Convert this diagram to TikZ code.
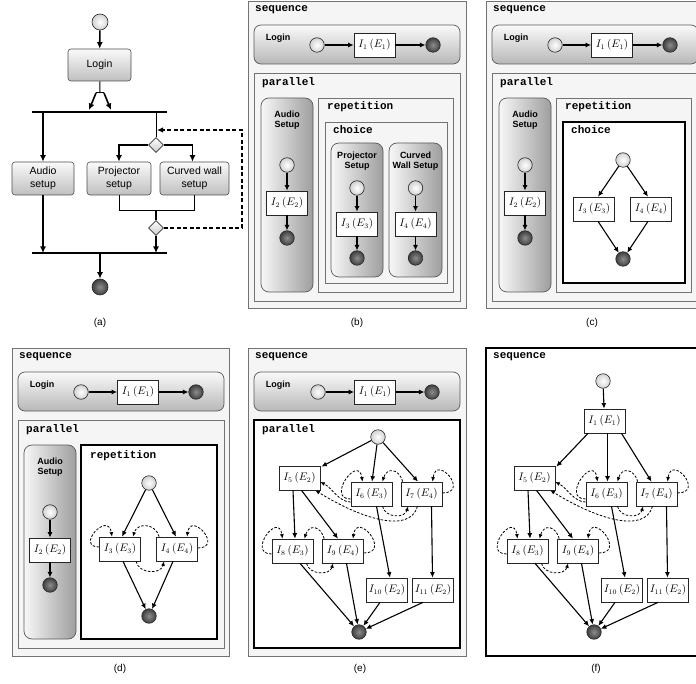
\documentclass[tikz,border=0pt]{standalone}
\usepackage{fontspec}
\setmainfont{Liberation Serif}
\setsansfont{Liberation Sans}
\setmonofont{Liberation Mono}
\usetikzlibrary{arrows.meta,shapes.geometric,calc}
\tikzset{
  seqbox/.style={draw=black!55, fill=black!4, line width=0.8pt},
  thickbox/.style={draw=black, fill=white, line width=1.6pt},
  loginbox/.style={draw=black!65, rounded corners=7pt, top color=black!2, bottom color=black!28, line width=0.7pt},
  tallbox/.style={draw=black!65, rounded corners=8pt, left color=black!3, right color=black!38, line width=0.7pt},
  abox/.style={draw=black!70, rounded corners=3pt, top color=black!2, bottom color=black!25, font=\sffamily\fontsize{10.5}{12.5}\selectfont, align=center, line width=0.6pt, inner sep=0pt},
  ibox/.style={draw=black!85, fill=white, minimum width=41pt, minimum height=24pt, inner sep=0pt, font=\fontsize{10.5}{12}\selectfont, line width=0.7pt},
  startc/.style={circle, draw=black!85, inner color=white, outer color=black!18, minimum size=14.5pt, inner sep=0pt, line width=0.6pt},
  endc/.style={circle, draw=black!85, inner color=black!45, outer color=black!75, minimum size=14.5pt, inner sep=0pt, line width=0.6pt},
  arr/.style={-{Latex[length=5.5pt,width=5pt]}, line width=1.1pt},
  aarr/.style={-{Latex[length=6.5pt,width=6pt]}, line width=1.6pt},
  darr/.style={-{Latex[length=4.5pt,width=4pt]}, dash pattern=on 2.5pt off 1.6pt, line width=0.8pt},
  kw/.style={font=\ttfamily\bfseries\fontsize{11}{12}\selectfont, anchor=west, inner sep=0pt},
  lbl/.style={font=\sffamily\bfseries\fontsize{9}{10.5}\selectfont, align=center, inner sep=0pt},
  captxt/.style={font=\sffamily\fontsize{10}{12}\selectfont, inner sep=0pt},
  dia/.style={diamond, draw=black!80, top color=white, bottom color=black!20, minimum size=15pt, inner sep=0pt, line width=0.6pt}
}
\newcommand{\boxat}[6]{\node[#1, minimum width={(#5)-(#3)}, minimum height={(#6)-(#4)}, inner sep=0pt, outer sep=0pt, anchor=north west] (#2) at (#3,#4) {};}
\newcommand{\lowergraph}[1]{%
  \node[ibox] (#1i5) at (299.5,478) {$I_5\,(E_2)$};
  \node[ibox] (#1i6) at (371.5,494) {$I_6\,(E_3)$};
  \node[ibox] (#1i7) at (421.5,494) {$I_7\,(E_4)$};
  \node[ibox] (#1i8) at (292.5,551) {$I_8\,(E_3)$};
  \node[ibox] (#1i9) at (343,551) {$I_9\,(E_4)$};
  \node[ibox] (#1i10) at (387,590) {$I_{10}\,(E_2)$};
  \node[ibox] (#1i11) at (433,590) {$I_{11}\,(E_2)$};
  \node[endc] (#1end) at (359,632) {};
  \draw[arr] ([shift={(-6.5,0)}]#1i5.south) -- ([shift={(2.5,0)}]#1i8.north);
  \draw[arr] ([shift={(2,0)}]#1i5.south) -- ([shift={(-5,0)}]#1i9.north);
  \draw[arr] ([shift={(5,0)}]#1i6.south) -- ([shift={(3,0)}]#1i10.north);
  \draw[arr] ([shift={(10,0)}]#1i7.south) -- ([shift={(-0.5,0)}]#1i11.north);
  \draw[arr] ([shift={(7.5,0)}]#1i8.south) -- (#1end);
  \draw[arr] ([shift={(3.5,0)}]#1i9.south) -- (#1end);
  \draw[arr] ([shift={(-7,0)}]#1i10.south) -- (#1end);
  \draw[arr] ([shift={(-10,0)}]#1i11.south) -- (#1end);
  \draw[darr] ([shift={(0,5)}]#1i6.west) .. controls +(-25,0) and +(-4,-28) .. ([shift={(-9,0)}]#1i6.north);
  \draw[darr] ([shift={(2,0)}]#1i7.north west) .. controls +(-4,-14) and +(4,-14) .. ([shift={(11,0)}]#1i6.north);
  \draw[darr] ([shift={(0,-1)}]#1i7.east) .. controls +(28,0) and +(4,-28) .. ([shift={(11,0)}]#1i7.north);
  \draw[darr] ([shift={(11,0)}]#1i6.south) .. controls +(3,12) and +(-3,12) .. ([shift={(-13.5,0)}]#1i7.south);
  \draw[darr] ([shift={(-4,0)}]#1i7.south) .. controls +(-8,28) and +(45,28) .. ([shift={(-5,0)}]#1i5.south east);
  \draw[darr] ([shift={(0,8)}]#1i6.west) .. controls +(-12,0) and +(12,6) .. ([shift={(0,4)}]#1i5.east);
  \draw[darr] ([shift={(0,3)}]#1i8.west) .. controls +(-25,0) and +(-4,-28) .. ([shift={(-10,0)}]#1i8.north);
  \draw[darr] ([shift={(2,0)}]#1i9.north west) .. controls +(-4,-14) and +(4,-14) .. ([shift={(12,0)}]#1i8.north);
  \draw[darr] ([shift={(0,2)}]#1i9.east) .. controls +(28,0) and +(4,-28) .. ([shift={(10,0)}]#1i9.north);
  \draw[darr] ([shift={(14,0)}]#1i8.south) .. controls +(3,12) and +(-3,12) .. ([shift={(-10,0)}]#1i9.south);
}
\begin{document}
\begin{tikzpicture}[x=1pt,y=-1pt]
\useasboundingbox (0,0) rectangle (696,684);
\clip (0,0) rectangle (696,684);

% ================= (a) =================
\node[startc, minimum size=16pt] (as) at (100,22) {};
\node[abox, minimum width=63pt, minimum height=32pt] (alog) at (99.5,65) {Login};
\draw[aarr] (as) -- (alog);
\coordinate (af) at (100,93);
\coordinate (afl) at (96,93);
\coordinate (afr) at (104,93);
\coordinate (afl2) at (89,110);
\coordinate (afr2) at (111,110);
\draw[line width=1pt] (alog) -- (af);
\draw[line width=1pt] (afl) -- (afr);
\draw[aarr] (afl) -- (afl2);
\draw[aarr] (afr) -- (afr2);
\coordinate (ab1w) at (32,112);
\coordinate (ab1e) at (167,112);
\draw[line width=2.5pt] (ab1w) -- (ab1e);
\node[abox, minimum width=62pt, minimum height=33pt] (aaud) at (43,178.5) {Audio\\setup};
\node[abox, minimum width=64pt, minimum height=33pt] (aproj) at (119,178.5) {Projector\\setup};
\node[abox, minimum width=69pt, minimum height=33pt] (acurv) at (194.5,178.5) {Curved wall\\setup};
\coordinate (ab1a) at (43,112);
\coordinate (ab1c) at (156,112);
\draw[aarr] (ab1a) -- (aaud);
\node[dia] (ad1) at (156,145) {};
\node[dia] (ad2) at (156,228) {};
\draw[line width=1pt] (ab1c) -- (ad1.north);
\draw[aarr] (ad1.west) -| (aproj.north);
\draw[aarr] (ad1.east) -| ([shift={(-2,0)}]acurv.north);
\coordinate (ajoin) at (156,210);
\draw[line width=0.7pt] (aproj.south) -- ++(0,15) -| (acurv.south);
\draw[line width=1.4pt] (ajoin) -- (ad2.north);
\coordinate (ab2w) at (32,253);
\coordinate (ab2e) at (167,253);
\draw[line width=2.5pt] (ab2w) -- (ab2e);
\coordinate (ab2a) at (43,253);
\coordinate (ab2c) at (156,253);
\coordinate (ab2m) at (100,253);
\draw[aarr] (aaud) -- (ab2a);
\draw[aarr] (ad2.south) -- (ab2c);
\node[endc, minimum size=16pt] (aend) at (100,287) {};
\draw[aarr] (ab2m) -- (aend);
\coordinate (adr1) at (242,228);
\coordinate (adr2) at (242,130);
\coordinate (adr3) at (157,130);
\draw[-{Latex[length=6pt,width=5.5pt]}, dash pattern=on 4pt off 2.5pt, line width=1.3pt] (ad2.east) -- (adr1) -- (adr2) -- (adr3);
\node[captxt] (acap) at (100,323) {(a)};

% ================= (b) =================
\boxat{seqbox}{bseq}{248}{1}{466}{308}
\node[kw] (bseqk) at (255,10) {sequence};
\boxat{loginbox}{blog}{254}{25}{460}{64}
\node[lbl] (blogt) at (278,38) {Login};
\node[startc] (b1s) at (317,45) {};
\node[ibox] (b1) at (374.5,45) {$I_1\,(E_1)$};
\node[endc] (b1e) at (433,45) {};
\draw[arr] (b1s) -- (b1);
\draw[arr] (b1) -- (b1e);
\boxat{seqbox}{bpar}{254}{73}{460}{301}
\node[kw] (bpark) at (262,83) {parallel};
\boxat{tallbox}{baud}{261}{98}{313}{292}
\node[lbl] (baudt) at (287,120) {Audio\\Setup};
\node[startc] (b2s) at (287,165) {};
\node[ibox] (b2) at (287,203) {$I_2\,(E_2)$};
\node[endc] (b2e) at (287,238) {};
\draw[arr] (b2s) -- (b2);
\draw[arr] (b2) -- (b2e);
\boxat{seqbox}{brep}{318}{98}{453}{292}
\node[kw] (brepk) at (327,107) {repetition};
\boxat{seqbox}{bcho}{325}{122}{447}{283}
\node[kw] (bchok) at (333,130) {choice};
\boxat{tallbox}{bproj}{331}{143}{383}{277}
\node[lbl] (bprojt) at (357,161) {Projector\\Setup};
\boxat{tallbox}{bcurv}{389}{143}{442}{277}
\node[lbl] (bcurvt) at (415.5,161) {Curved\\Wall Setup};
\node[startc] (b3s) at (357,188) {};
\node[ibox] (b3) at (357,224) {$I_3\,(E_3)$};
\node[endc] (b3e) at (357,258) {};
\draw[arr] (b3s) -- (b3);
\draw[arr] (b3) -- (b3e);
\node[startc] (b4s) at (415.5,188) {};
\node[ibox] (b4) at (415.5,224) {$I_4\,(E_4)$};
\node[endc] (b4e) at (415.5,258) {};
\draw[arr] (b4s) -- (b4);
\draw[arr] (b4) -- (b4e);
\node[captxt] (bcap) at (357,323) {(b)};

% ================= (c) =================
\boxat{seqbox}{cseq}{486}{1}{704}{308}
\node[kw] (cseqk) at (493,10) {sequence};
\boxat{loginbox}{clog}{492}{25}{698}{64}
\node[lbl] (clogt) at (516,38) {Login};
\node[startc] (c1s) at (555,45) {};
\node[ibox] (c1) at (612,45) {$I_1\,(E_1)$};
\node[endc] (c1e) at (670,45) {};
\draw[arr] (c1s) -- (c1);
\draw[arr] (c1) -- (c1e);
\boxat{seqbox}{cpar}{492}{73}{698}{301}
\node[kw] (cpark) at (500,83) {parallel};
\boxat{tallbox}{caud}{499}{98}{551}{292}
\node[lbl] (caudt) at (525,120) {Audio\\Setup};
\node[startc] (c2s) at (525,165) {};
\node[ibox] (c2) at (525,203) {$I_2\,(E_2)$};
\node[endc] (c2e) at (525,238) {};
\draw[arr] (c2s) -- (c2);
\draw[arr] (c2) -- (c2e);
\boxat{seqbox}{crep}{556}{98}{691}{292}
\node[kw] (crepk) at (565,107) {repetition};
\boxat{thickbox}{ccho}{563}{122}{685}{283}
\node[kw] (cchok) at (571,130) {choice};
\node[startc] (c3s) at (623,160) {};
\node[ibox] (c3) at (594,209) {$I_3\,(E_3)$};
\node[ibox] (c4) at (651,209) {$I_4\,(E_4)$};
\node[endc] (c3e) at (623,259) {};
\draw[arr] (c3s) -- ([shift={(4,0)}]c3.north);
\draw[arr] (c3s) -- ([shift={(-3,0)}]c4.north);
\draw[arr] ([shift={(4,0)}]c3.south) -- (c3e);
\draw[arr] ([shift={(-3,0)}]c4.south) -- (c3e);
\node[captxt] (ccap) at (592,323) {(c)};

% ================= (d) =================
\boxat{seqbox}{dseq}{12}{348}{229}{656}
\node[kw] (dseqk) at (19,357) {sequence};
\boxat{loginbox}{dlog}{18}{372}{224}{411}
\node[lbl] (dlogt) at (42,385) {Login};
\node[startc] (d1s) at (81,392) {};
\node[ibox] (d1) at (138,392) {$I_1\,(E_1)$};
\node[endc] (d1e) at (196,392) {};
\draw[arr] (d1s) -- (d1);
\draw[arr] (d1) -- (d1e);
\boxat{seqbox}{dpar}{18}{420}{224}{648}
\node[kw] (dpark) at (26,430) {parallel};
\boxat{tallbox}{daud}{24}{445}{76}{639}
\node[lbl] (daudt) at (50,467) {Audio\\Setup};
\node[startc] (d2s) at (50,512) {};
\node[ibox] (d2) at (50,550) {$I_2\,(E_2)$};
\node[endc] (d2e) at (50,585) {};
\draw[arr] (d2s) -- (d2);
\draw[arr] (d2) -- (d2e);
\boxat{thickbox}{drep}{81}{445}{217}{639}
\node[kw] (drepk) at (90,456) {repetition};
\node[startc] (d3s) at (149,483) {};
\node[ibox] (d3) at (120,549) {$I_3\,(E_3)$};
\node[ibox] (d4) at (177,549) {$I_4\,(E_4)$};
\node[endc] (d3e) at (149,616) {};
\draw[arr] (d3s) -- ([shift={(2,0)}]d3.north);
\draw[arr] (d3s) -- ([shift={(-1,0)}]d4.north);
\draw[arr] ([shift={(3,0)}]d3.south) -- (d3e);
\draw[arr] ([shift={(-4,0)}]d4.south) -- (d3e);
\draw[darr] ([shift={(0,-2)}]d3.west) .. controls +(-24,0) and +(-4,-26) .. ([shift={(-8,0)}]d3.north);
\draw[darr] ([shift={(3,0)}]d4.north west) .. controls +(-4,-14) and +(4,-14) .. ([shift={(13,0)}]d3.north);
\draw[darr] ([shift={(0,-1)}]d4.east) .. controls +(26,0) and +(4,-26) .. ([shift={(10,0)}]d4.north);
\draw[darr] ([shift={(16,0)}]d3.south) .. controls +(3,13) and +(-3,13) .. ([shift={(-13,0)}]d4.south);
\node[captxt] (dcap) at (120,669) {(d)};

% ================= (e) =================
\boxat{seqbox}{eseq}{248}{348}{466}{656}
\node[kw] (eseqk) at (255,357) {sequence};
\boxat{loginbox}{elog}{254}{372}{460}{411}
\node[lbl] (elogt) at (278,385) {Login};
\node[startc] (e1s) at (318,392) {};
\node[ibox] (e1) at (375,392) {$I_1\,(E_1)$};
\node[endc] (e1e) at (432,392) {};
\draw[arr] (e1s) -- (e1);
\draw[arr] (e1) -- (e1e);
\boxat{thickbox}{epar}{254}{420}{460}{648}
\node[kw] (epark) at (262,430) {parallel};
\node[startc] (es) at (378,437) {};
\lowergraph{e}
\draw[arr] (es) -- ([shift={(1,1)}]ei5.north east);
\draw[arr] (es) -- ([shift={(0.5,0)}]ei6.north);
\draw[arr] (es) -- ([shift={(-3.5,0)}]ei7.north);
\node[captxt] (ecap) at (360,669) {(e)};

% ================= (f) =================
\boxat{thickbox}{fseq}{486}{348}{706}{656}
\node[kw] (fseqk) at (493,357) {sequence};
\begin{scope}[xshift=235pt]
\node[startc] (fs) at (368,381) {};
\node[ibox] (f1) at (369.5,421) {$I_1\,(E_1)$};
\draw[arr] (fs) -- (f1);
\lowergraph{f}
\draw[arr] ([shift={(-16.5,0)}]f1.south) -- ([shift={(1,1)}]fi5.north east);
\draw[arr] ([shift={(3,0)}]f1.south) -- ([shift={(1,0)}]fi6.north);
\draw[arr] ([shift={(17,0)}]f1.south) -- ([shift={(-5,0)}]fi7.north);
\end{scope}
\node[captxt] (fcap) at (596,669) {(f)};
\end{tikzpicture}
\end{document}
